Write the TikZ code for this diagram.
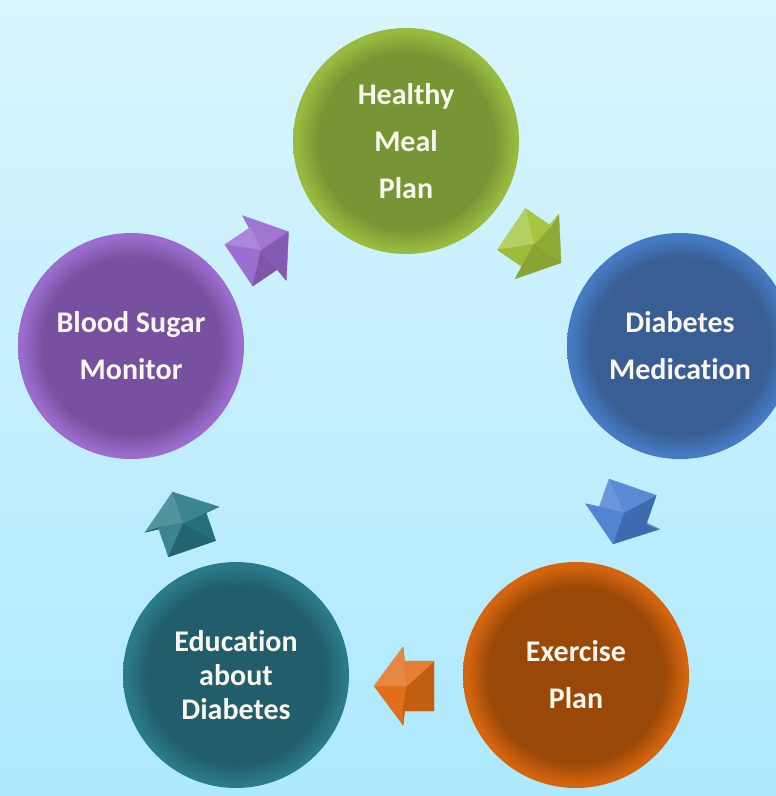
\documentclass[tikz,border=0pt]{standalone}
\usepackage{fontspec}
\setmainfont{Carlito}[Ligatures={NoCommon,NoContextual}]
\usetikzlibrary{calc}
\definecolor{bgtop}{HTML}{D9F5FE}
\definecolor{bgbot}{HTML}{ADE9FE}
\definecolor{txt}{HTML}{F8F6EE}
\definecolor{gA}{HTML}{789536}\definecolor{gB}{HTML}{98BA3E}\definecolor{gArr}{HTML}{A2C43C}
\definecolor{bA}{HTML}{385E94}\definecolor{bB}{HTML}{467AC2}\definecolor{bArr}{HTML}{4A7FD0}
\definecolor{oA}{HTML}{9A4808}\definecolor{oB}{HTML}{D4650E}\definecolor{oArr}{HTML}{E06A12}
\definecolor{tA}{HTML}{215D6A}\definecolor{tB}{HTML}{2B7A8A}\definecolor{tArr}{HTML}{287886}
\definecolor{pA}{HTML}{77509F}\definecolor{pB}{HTML}{9A6CCC}\definecolor{pArr}{HTML}{9868CE}
\colorlet{ballA}{gA}\colorlet{ballB}{gB}
\pgfdeclareradialshading[ballA,ballB]{rimshade}{\pgfpoint{0bp}{0bp}}{color(0bp)=(ballA); color(19.5bp)=(ballA); color(24.2bp)=(ballB); color(25bp)=(ballB); color(50bp)=(ballB)}
\tikzset{
  disc/.style 2 args={circle, minimum size=226pt, inner sep=0pt, align=center,
    text=txt, font=\fontsize{30}{47}\selectfont\bfseries,
    /utils/exec={\colorlet{ballA}{#1}\colorlet{ballB}{#2}}, shading=rimshade},
}
\newcommand\facetarrow[4]{%
  \begin{scope}[shift={#2}, rotate=-#3]
    \coordinate (#1-T) at (29,0);
    \coordinate (#1-HT) at (0,-39);
    \coordinate (#1-ST) at (0,-25);
    \coordinate (#1-BT) at (-31,-25);
    \coordinate (#1-BB) at (-31,25);
    \coordinate (#1-SB) at (0,25);
    \coordinate (#1-HB) at (0,39);
    \coordinate (#1-P) at (-4,0);
    \foreach \a/\b/\n in {T/HT/-36.6, HT/ST/180, ST/BT/-90, BT/BB/180, BB/SB/90, SB/HB/180, HB/T/36.6}{
      \pgfmathsetmacro\sh{cos(\n+#3-225)}
      \ifdim\sh pt>0pt
        \pgfmathsetmacro\pa{100-20*\sh}\def\mc{white}
      \else
        \pgfmathsetmacro\pa{100+18*\sh}\def\mc{black}
      \fi
      \fill[fill=#4!\pa!\mc, draw=#4!\pa!\mc, line width=0.4pt, line join=round]
        (#1-P) -- (#1-\a) -- (#1-\b) -- cycle;
    }
  \end{scope}}
\begin{document}
\begin{tikzpicture}[x=1pt,y=-1pt]
  \useasboundingbox (0,0) rectangle (776,796);
  \clip (0,0) rectangle (776,796);
  \shade[top color=bgtop, bottom color=bgbot] (0,0) rectangle (776,796);

  \node[disc={gA}{gB}] (meal) at (406,141) {Healthy\\Meal\\Plan};
  \node[disc={bA}{bB}] (med) at (680,346) {Diabetes\\Medication};
  \node[disc={oA}{oB}] (ex) at (576,675) {Exercise\\Plan};
  \node[disc={tA}{tB}, font=\fontsize{30}{34}\selectfont\bfseries] (edu) at (236,675) {Education\\about\\Diabetes};
  \node[disc={pA}{pB}] (bsm) at (131,346) {Blood Sugar\\Monitor};

  \facetarrow{a1}{($(meal)!0.5!(med)+(-6,3)$)}{34}{gArr}
  \facetarrow{a2}{($(med)!0.5!(ex)+(-5.5,6)$)}{109}{bArr}
  \facetarrow{a3}{($(ex)!0.5!(edu)+(-3,11)$)}{180}{oArr}
  \facetarrow{a4}{($(edu)!0.5!(bsm)+(-1.5,9)$)}{251}{tArr}
  \facetarrow{a5}{($(bsm)!0.5!(meal)+(-4,4.5)$)}{326}{pArr}
\end{tikzpicture}
\end{document}
